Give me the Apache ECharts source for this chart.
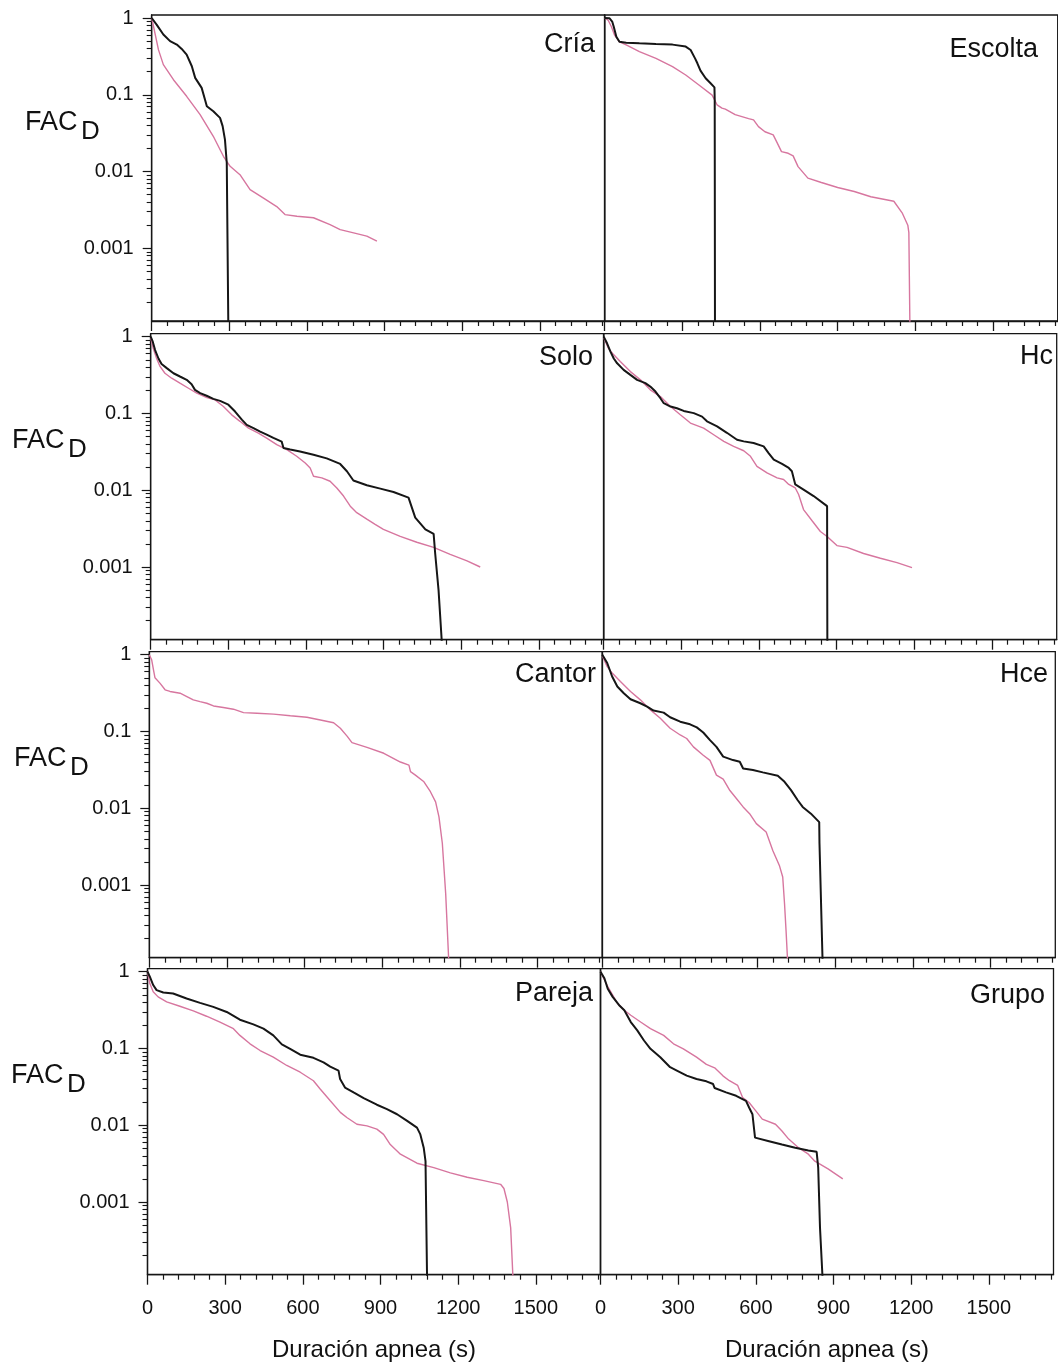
<!DOCTYPE html>
<html>
<head>
<meta charset="utf-8">
<title>FAC_D apneas</title>
<script src="https://cdn.jsdelivr.net/npm/echarts@6/dist/echarts.min.js"></script>
<style>
  html, body { margin: 0; padding: 0; background: #fff; }
  #chart { width: 1058px; height: 1366px; }
</style>
</head>
<body>
<div id="chart"></div>
<script>
// ---- data (duration in s, FAC_D) ----
const criaBlack = [[0,1],[4,0.97],[19,0.82],[45,0.61],[71,0.5],[97,0.45],[116,0.395],[135,0.333],[155,0.235],[168,0.166],[193,0.123],[206,0.086],[213,0.071],[238,0.061],[264,0.05],[274,0.039],[283,0.026],[290,0.0129],[296,0.0001]]
const criaPink = [[0,1],[3,0.9],[26,0.387],[45,0.247],[84,0.157],[135,0.0955],[187,0.0551],[238,0.0288],[277,0.0158],[303,0.0117],[341,0.0091],[380,0.0058],[432,0.0045],[483,0.0035],[515,0.00275],[561,0.00262],[625,0.0025],[689,0.00203],[728,0.00175],[780,0.00159],[831,0.00144],[870,0.00124]]

const escoltaBlack = [[0,1],[19,0.99],[29,0.9],[35,0.77],[45,0.57],[57,0.49],[83,0.477],[134,0.468],[198,0.458],[262,0.45],[313,0.424],[332,0.383],[349,0.298],[358,0.257],[370,0.206],[390,0.164],[409,0.141],[424,0.125],[425,0.086],[426,0.0001]]
const escoltaPink = [[0,1],[13,0.94],[26,0.77],[38,0.6],[57,0.49],[83,0.445],[134,0.365],[198,0.298],[262,0.232],[313,0.181],[364,0.134],[415,0.099],[434,0.074],[453,0.067],[466,0.065],[504,0.055],[556,0.049],[575,0.047],[594,0.0385],[619,0.033],[651,0.03],[664,0.0245],[683,0.0182],[709,0.0173],[728,0.016],[747,0.0116],[785,0.0082],[837,0.0072],[900,0.0062],[964,0.0055],[1028,0.0047],[1117,0.0041],[1149,0.0029],[1171,0.002],[1175,0.0016],[1179,0.0001]]

const soloBlack = [[0,1],[8,0.86],[17,0.67],[30,0.52],[42,0.44],[62,0.39],[88,0.334],[113,0.303],[139,0.274],[158,0.24],[171,0.203],[191,0.184],[216,0.17],[242,0.155],[268,0.146],[300,0.13],[326,0.106],[352,0.083],[371,0.071],[397,0.0645],[423,0.058],[448,0.053],[474,0.048],[506,0.043],[513,0.0355],[539,0.034],[577,0.032],[629,0.029],[680,0.026],[732,0.022],[758,0.0177],[783,0.0134],[835,0.0116],[887,0.0105],[938,0.0095],[996,0.008],[1022,0.0044],[1061,0.0031],[1093,0.0027],[1099,0.0015],[1112,0.0005],[1125,0.0001]]
const soloPink = [[0,0.97],[10,0.7],[23,0.52],[36,0.41],[55,0.334],[81,0.288],[113,0.248],[146,0.213],[178,0.184],[217,0.161],[249,0.15],[281,0.123],[313,0.096],[345,0.079],[378,0.0645],[416,0.0556],[448,0.0478],[487,0.0392],[526,0.0338],[564,0.0277],[597,0.0226],[616,0.0195],[629,0.0152],[661,0.0145],[693,0.0131],[719,0.0107],[745,0.0084],[771,0.0062],[796,0.0051],[835,0.0042],[867,0.0036],[899,0.0031],[964,0.0025],[1028,0.0021],[1093,0.0018],[1157,0.00146],[1222,0.0012],[1273,0.001]]

const hcBlack = [[0,1],[13,0.82],[26,0.64],[39,0.52],[52,0.45],[77,0.37],[103,0.318],[129,0.274],[161,0.248],[180,0.224],[200,0.193],[219,0.158],[232,0.136],[258,0.123],[283,0.117],[309,0.108],[348,0.101],[380,0.091],[399,0.079],[438,0.068],[476,0.056],[515,0.0455],[541,0.0433],[579,0.0412],[618,0.0373],[637,0.0305],[657,0.025],[689,0.022],[715,0.0195],[727,0.0177],[740,0.0119],[772,0.0102],[811,0.0084],[863,0.0062],[864,0.0001]]
const hcPink = [[0,0.97],[19,0.7],[39,0.58],[64,0.474],[103,0.351],[142,0.274],[180,0.203],[219,0.166],[258,0.123],[296,0.096],[335,0.075],[386,0.0645],[425,0.0528],[464,0.0433],[502,0.0373],[541,0.0327],[567,0.0277],[592,0.0205],[631,0.0168],[670,0.0145],[695,0.0138],[715,0.0119],[740,0.0107],[753,0.0088],[772,0.0056],[805,0.004],[837,0.0029],[863,0.0025],[901,0.0019],[940,0.0018],[1004,0.0015],[1069,0.0013],[1133,0.00114],[1191,0.00098]]

const cantorPink = [[0,1],[3,0.95],[9,0.86],[16,0.64],[22,0.5],[41,0.426],[61,0.349],[80,0.332],[119,0.315],[145,0.285],[170,0.258],[196,0.245],[222,0.233],[248,0.215],[286,0.205],[325,0.195],[364,0.176],[416,0.173],[480,0.168],[545,0.16],[609,0.153],[661,0.141],[712,0.13],[738,0.11],[764,0.087],[783,0.0715],[841,0.062],[906,0.052],[970,0.04],[1003,0.0365],[1009,0.03],[1028,0.027],[1061,0.0221],[1086,0.0164],[1106,0.0121],[1119,0.0077],[1132,0.0035],[1145,0.00077],[1157,0.0001]]

const hceBlack = [[0,1],[19,0.78],[38,0.52],[58,0.385],[83,0.315],[109,0.263],[147,0.233],[173,0.211],[198,0.187],[237,0.176],[262,0.153],[301,0.134],[339,0.124],[365,0.113],[390,0.097],[416,0.077],[441,0.063],[467,0.047],[505,0.0424],[531,0.0403],[544,0.033],[582,0.0314],[620,0.0293],[678,0.0265],[704,0.0221],[729,0.0172],[755,0.0127],[774,0.0104],[806,0.0085],[838,0.0066],[839,0.0035],[851,0.0001]]
const hcePink = [[0,0.97],[19,0.7],[38,0.576],[70,0.448],[109,0.332],[147,0.258],[186,0.191],[224,0.149],[262,0.11],[301,0.09],[326,0.081],[352,0.063],[390,0.049],[416,0.042],[441,0.027],[467,0.024],[493,0.017],[518,0.0134],[544,0.0104],[569,0.0085],[595,0.0063],[633,0.0049],[659,0.0028],[684,0.0018],[697,0.00127],[704,0.00057],[710,0.00025],[716,0.0001]]

const parejaBlack = [[0,1],[3,0.95],[9,0.86],[22,0.67],[35,0.575],[61,0.536],[99,0.52],[151,0.447],[203,0.393],[254,0.348],[306,0.299],[357,0.237],[409,0.206],[448,0.181],[486,0.148],[519,0.113],[551,0.099],[590,0.083],[641,0.0755],[680,0.066],[706,0.058],[738,0.0515],[744,0.04],[763,0.031],[796,0.0268],[835,0.0226],[886,0.0185],[925,0.0162],[964,0.0139],[1003,0.0114],[1041,0.0093],[1054,0.0076],[1067,0.0051],[1074,0.0034],[1080,0.0001]]
const parejaPink = [[0,1],[3,0.95],[9,0.7],[22,0.547],[41,0.47],[74,0.404],[125,0.355],[177,0.308],[228,0.263],[280,0.221],[332,0.181],[357,0.148],[396,0.115],[435,0.094],[486,0.077],[538,0.06],[590,0.049],[641,0.038],[667,0.0296],[706,0.0208],[745,0.0147],[770,0.0126],[809,0.0103],[848,0.0098],[886,0.0089],[912,0.0076],[938,0.0056],[977,0.0042],[1041,0.0032],[1106,0.0028],[1170,0.0024],[1235,0.0021],[1299,0.0019],[1364,0.0017],[1377,0.0015],[1390,0.001],[1403,0.00046],[1412,0.0001]]

const grupoBlack = [[0,1],[5,0.98],[15,0.82],[28,0.6],[47,0.47],[72,0.366],[92,0.315],[117,0.221],[142,0.172],[168,0.127],[193,0.099],[231,0.077],[269,0.057],[295,0.0515],[333,0.0443],[371,0.04],[409,0.0373],[435,0.0344],[441,0.0305],[485,0.0268],[524,0.0242],[562,0.0208],[574,0.017],[587,0.0139],[597,0.0069],[651,0.0062],[701,0.0056],[752,0.0051],[803,0.0047],[835,0.0045],[841,0.0028],[848,0.00046],[858,0.0001]]
const grupoPink = [[0,1],[5,0.97],[28,0.64],[66,0.385],[92,0.315],[117,0.271],[155,0.221],[193,0.181],[244,0.148],[282,0.115],[320,0.099],[371,0.077],[409,0.062],[441,0.056],[473,0.044],[498,0.038],[530,0.033],[549,0.023],[574,0.0198],[600,0.0154],[625,0.012],[676,0.0103],[701,0.0084],[727,0.0066],[765,0.0051],[803,0.0042],[828,0.0034],[879,0.0027],[936,0.002]]

// ---- ticks ----
const xMajorTicks = [0, 300, 600, 900, 1200, 1500]
const xMinorTicks = [60,120,180,240, 360,420,480,540, 660,720,780,840, 960,1020,1080,1140, 1260,1320,1380,1440, 1560,1620,1680,1740]
const yMajorTicks = [0.001, 0.01, 0.1, 1]
const yMinorTicks = [0.0002,0.0003,0.0004,0.0005,0.0006,0.0007,0.0008,0.0009,
  0.002,0.003,0.004,0.005,0.006,0.007,0.008,0.009,
  0.02,0.03,0.04,0.05,0.06,0.07,0.08,0.09,
  0.2,0.3,0.4,0.5,0.6,0.7,0.8,0.9]

const panels = [
  { name: 'Cría',    row: 0, col: 0, black: criaBlack,    pink: criaPink },
  { name: 'Escolta', row: 0, col: 1, black: escoltaBlack, pink: escoltaPink },
  { name: 'Solo',    row: 1, col: 0, black: soloBlack,    pink: soloPink },
  { name: 'Hc',      row: 1, col: 1, black: hcBlack,      pink: hcPink },
  { name: 'Cantor',  row: 2, col: 0, black: null,         pink: cantorPink },
  { name: 'Hce',     row: 2, col: 1, black: hceBlack,     pink: hcePink },
  { name: 'Pareja',  row: 3, col: 0, black: parejaBlack,  pink: parejaPink },
  { name: 'Grupo',   row: 3, col: 1, black: grupoBlack,   pink: grupoPink }
]

// ---- layout ----
const FONT = '"Liberation Sans", Arial, Helvetica, sans-serif'
const INK = '#161616'
const PINK = '#d7769f'
const X_MAX = 1750
const Y_MIN = 0.000113
const Y_MAX = 1.094
const PANEL_W = 453
const PANEL_H = 306
const rowTops = [15, 333.7, 651.7, 968.7]
const rowLefts = [151.7, 150.7, 149.3, 147.5]
const facPos = [[25, 123], [12, 441], [14, 759], [11, 1076]]
const titlePos = [[595, 45], [1038, 50], [593, 358], [1053, 357], [596, 675], [1048, 675], [593, 994], [1045, 996]]

const chart = echarts.init(document.getElementById('chart'), null, { renderer: 'canvas' })

const grids = [], xAxes = [], yAxes = [], series = [], graphics = []

panels.forEach((p, i) => {
  const isBottom = p.row === 3
  const isLeft = p.col === 0
  grids.push({
    left: rowLefts[p.row] + p.col * PANEL_W,
    top: rowTops[p.row],
    width: PANEL_W,
    height: PANEL_H,
    show: true,
    borderColor: INK,
    borderWidth: 1.3,
    backgroundColor: 'transparent',
    containLabel: false,
    outerBoundsMode: 'none'
  })

  // main x axis: line, major ticks, labels
  xAxes.push({
    gridIndex: i, type: 'value', position: 'bottom', min: 0, max: X_MAX,
    axisLine: { show: true, lineStyle: { color: INK, width: 1.3 } },
    axisTick: { show: true, customValues: xMajorTicks, length: 10, lineStyle: { color: INK, width: 1.3 } },
    axisLabel: { show: isBottom, customValues: xMajorTicks, margin: 24, fontSize: 20, color: '#111', fontFamily: FONT,
      formatter: v => String(v) },
    splitLine: { show: false },
    name: isBottom ? 'Duración apnea (s)' : '',
    nameLocation: 'middle', nameGap: 64,
    nameTextStyle: { fontSize: 24, color: '#111', fontFamily: FONT }
  })
  // minor x ticks
  xAxes.push({
    gridIndex: i, type: 'value', position: 'bottom', min: 0, max: X_MAX,
    axisLine: { show: false },
    axisTick: { show: true, customValues: xMinorTicks, length: 5, lineStyle: { color: INK, width: 1.2 } },
    axisLabel: { show: false },
    splitLine: { show: false }
  })

  // main y axis (log)
  yAxes.push({
    gridIndex: i, type: 'log', logBase: 10, position: 'left', min: Y_MIN, max: Y_MAX,
    axisLine: { show: true, lineStyle: { color: INK, width: 1.3 } },
    axisTick: { show: isLeft, customValues: yMajorTicks, length: 9, lineStyle: { color: INK, width: 1.2 } },
    axisLabel: { show: isLeft, customValues: yMajorTicks, margin: 18, fontSize: 20, color: '#111', fontFamily: FONT,
      formatter: v => String(v) },
    splitLine: { show: false }
  })
  // minor y ticks
  yAxes.push({
    gridIndex: i, type: 'log', logBase: 10, position: 'left', min: Y_MIN, max: Y_MAX,
    axisLine: { show: false },
    axisTick: { show: isLeft, customValues: yMinorTicks, length: 5, lineStyle: { color: INK, width: 1.1 } },
    axisLabel: { show: false },
    splitLine: { show: false }
  })

  series.push({
    type: 'line', xAxisIndex: 2 * i, yAxisIndex: 2 * i, data: p.pink,
    showSymbol: false, symbol: 'none', clip: true, silent: true,
    lineStyle: { color: PINK, width: 1.4 }, z: 2
  })
  if (p.black) {
    series.push({
      type: 'line', xAxisIndex: 2 * i, yAxisIndex: 2 * i, data: p.black,
      showSymbol: false, symbol: 'none', clip: true, silent: true,
      lineStyle: { color: INK, width: 2 }, z: 3
    })
  }

  graphics.push({
    type: 'text', x: titlePos[i][0], y: titlePos[i][1], silent: true,
    style: { text: p.name, fill: '#111', font: '27px ' + FONT, align: 'right', verticalAlign: 'middle' }
  })
})

// y axis title FAC with subscript D
facPos.forEach(([fx, fy]) => {
  graphics.push({
    type: 'text', x: fx, y: fy, silent: true,
    style: { text: 'FAC', fill: '#111', font: '27px ' + FONT, align: 'left', verticalAlign: 'middle' }
  })
  graphics.push({
    type: 'text', x: fx + 56, y: fy + 9, silent: true,
    style: { text: 'D', fill: '#111', font: '26px ' + FONT, align: 'left', verticalAlign: 'middle' }
  })
})

const option = {
  backgroundColor: '#ffffff',
  animation: false,
  grid: grids,
  xAxis: xAxes,
  yAxis: yAxes,
  series: series,
  graphic: graphics
}

chart.setOption(option)
</script>
</body>
</html>
